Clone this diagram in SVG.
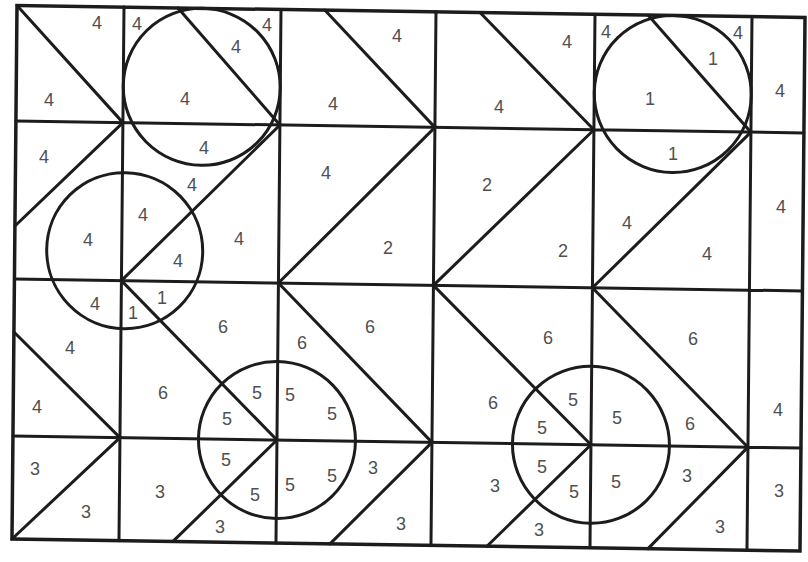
<svg xmlns="http://www.w3.org/2000/svg" width="808" height="562" viewBox="0 0 808 562">
<style>
.ln{stroke:#1c1c1c;stroke-width:3;fill:none;stroke-linecap:round}
.bd{stroke:#1c1c1c;stroke-width:3.5;fill:none}
.t{font-family:"Liberation Sans","DejaVu Sans",sans-serif;font-size:18px;fill:#505050;text-anchor:middle}
</style>
<rect width="808" height="562" fill="#ffffff"/>
<g id="drawing" transform="matrix(1 0.0152 -0.0094 1 0.05 -0.26)">
<g id="grid">
<rect class="bd" x="17" y="5.5" width="788" height="533.5"/>
<path class="ln" d="M124 5.5V539M281 5.5V539M436 5.5V539M595 5.5V539M752 5.5V539M17 121H805M17 279H805M17 436H805"/>
</g>
<g id="diagonals">
<path class="ln" d="M17 5.5L124 121M178 5.5L281 121M325 5.5L436 121M480 5.5L595 121M648 5.5L752 121"/>
<path class="ln" d="M124 121L17 226M124 279L281 121M281 279L436 121M436 279L595 121M595 279L752 121"/>
<path class="ln" d="M17 332L124 436M124 279L281 436M281 279L436 436M436 279L595 436M595 279L752 436"/>
<path class="ln" d="M17 539L124 436M178 539L281 436M335 539L436 436M492 539L595 436M653 539L752 436"/>
</g>
<g id="circles">
<circle class="ln" cx="202.5" cy="84" r="78.5"/>
<circle class="ln" cx="673.5" cy="84" r="78.5"/>
<circle class="ln" cx="127" cy="249" r="78"/>
<circle class="ln" cx="281" cy="436" r="78.5"/>
<circle class="ln" cx="595" cy="436" r="78.5"/>
</g>
</g>
<g id="labels" class="t">
<text x="97" y="28.5">4</text><text x="49" y="105.5">4</text>
<text x="137" y="29.5">4</text><text x="185" y="104.5">4</text><text x="236" y="52.5">4</text><text x="267" y="30.5">4</text>
<text x="397" y="41.5">4</text><text x="333" y="109.5">4</text>
<text x="567" y="47.5">4</text><text x="499" y="112.5">4</text>
<text x="606" y="37.5">4</text><text x="738" y="38.5">4</text><text x="713" y="64.5">1</text><text x="650" y="104.5">1</text>
<text x="780" y="96.5">4</text>
<text x="44" y="162.5">4</text><text x="88" y="245.5">4</text>
<text x="204" y="153.5">4</text><text x="192" y="190.5">4</text><text x="143" y="220.5">4</text><text x="178" y="266.5">4</text><text x="239" y="244.5">4</text>
<text x="326" y="178.5">4</text><text x="388" y="253.5">2</text>
<text x="487" y="190.5">2</text><text x="563" y="256.5">2</text>
<text x="673" y="159.5">1</text><text x="627" y="228.5">4</text><text x="707" y="259.5">4</text>
<text x="781" y="212.5">4</text>
<text x="95" y="309.5">4</text><text x="70" y="353.5">4</text><text x="37" y="412.5">4</text>
<text x="133" y="318.5">1</text><text x="162" y="303.5">1</text><text x="223" y="332.5">6</text><text x="163" y="398.5">6</text><text x="227" y="424.5">5</text><text x="257" y="398.5">5</text>
<text x="302" y="348.5">6</text><text x="370" y="332.5">6</text><text x="290" y="400.5">5</text><text x="332" y="419.5">5</text>
<text x="548" y="343.5">6</text><text x="493" y="408.5">6</text><text x="542" y="433.5">5</text><text x="573" y="405.5">5</text>
<text x="693" y="344.5">6</text><text x="617" y="423.5">5</text><text x="690" y="429.5">6</text>
<text x="778" y="415.5">4</text>
<text x="35" y="474.5">3</text><text x="86" y="517.5">3</text>
<text x="160" y="497.5">3</text><text x="226" y="465.5">5</text><text x="255" y="500.5">5</text><text x="220" y="532.5">3</text>
<text x="290" y="490.5">5</text><text x="332" y="481.5">5</text><text x="373" y="473.5">3</text><text x="401" y="529.5">3</text>
<text x="495" y="491.5">3</text><text x="542" y="472.5">5</text><text x="574" y="497.5">5</text><text x="539" y="535.5">3</text>
<text x="616" y="487.5">5</text><text x="687" y="481.5">3</text><text x="720" y="532.5">3</text>
<text x="779" y="496.5">3</text>
</g>
</svg>
